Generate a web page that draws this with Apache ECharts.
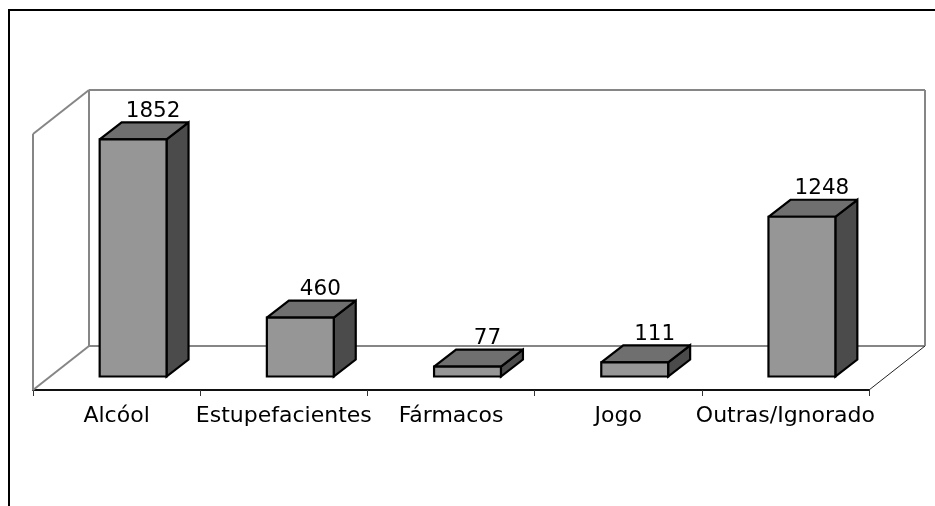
<!DOCTYPE html>
<html><head><meta charset="utf-8">
<style>html,body{margin:0;padding:0;background:#fff}#c{width:935px;height:506px}</style>
<script src="https://cdn.jsdelivr.net/npm/echarts@6/dist/echarts.min.js"></script>
</head><body><div id="c"></div>
<script>
const categories = ["Alcóol","Estupefacientes","Fármacos","Jogo","Outras/Ignorado"];
const values = [1852,460,77,111,1248];
const FONT = '"DejaVu Sans", Verdana, sans-serif';
const WALL = {dx:56, dy:-44};      // depth of the 3D room
const BAR = {ox:16.5, oy:-13.5, dx:22, dy:-17, w:0.4}; // bar offset in the room and its depth

const chart = echarts.init(document.getElementById('c'), null, {renderer:'canvas'});

function poly(points, fill){
  return {type:'polygon', shape:{points}, style:{fill, stroke:'#000', lineWidth:2.2, lineJoin:'miter', miterLimit:3}};
}
function line(x1,y1,x2,y2,stroke,lineWidth){
  return {type:'line', shape:{x1,y1,x2,y2}, style:{stroke, lineWidth}};
}
function renderWalls(params, api){
  const cs = params.coordSys;
  const L = cs.x, R = cs.x + cs.width, T = cs.y, B = cs.y + cs.height;
  const d = WALL, g = '#868686';
  return {type:'group', children:[
    line(L+d.dx,T+d.dy,R+d.dx,T+d.dy,g,2),
    line(L+d.dx,T+d.dy,L+d.dx,B+d.dy,g,2),
    line(R+d.dx,T+d.dy,R+d.dx,B+d.dy,g,2),
    line(L+d.dx,B+d.dy,R+d.dx,B+d.dy,g,2),
    line(L,T,L,B,g,2),
    line(L,T,L+d.dx,T+d.dy,g,2),
    line(L,B,L+d.dx,B+d.dy,g,2),
    line(R,B,R+d.dx,B+d.dy,'#222',1)
  ]};
}
function renderBar(params, api){
  const i = api.value(0), v = api.value(1);
  const top = api.coord([i,v]), base = api.coord([i,0]);
  const w = api.size([1,0])[0]*BAR.w;
  const x0 = top[0]+BAR.ox-w/2, x1 = x0+w;
  const yT = top[1]+BAR.oy, yB = base[1]+BAR.oy;
  const dx = BAR.dx, dy = BAR.dy;
  return {type:'group', children:[
    poly([[x1,yT],[x1+dx,yT+dy],[x1+dx,yB+dy],[x1,yB]],'#4b4b4b'),
    poly([[x0,yT],[x0+dx,yT+dy],[x1+dx,yT+dy],[x1,yT]],'#6f6f6f'),
    poly([[x0,yT],[x1,yT],[x1,yB],[x0,yB]],'#969696'),
    {type:'text', x:top[0]+BAR.ox+20, y:yT+dy, style:{
      text:String(v), fill:'#000', font:'21.5px '+FONT, align:'center', verticalAlign:'bottom'}}
  ]};
}

chart.setOption({
  animation:false,
  backgroundColor:'#fff',
  grid:{left:33, right:66, top:134, bottom:116},
  xAxis:{type:'category', data:categories, boundaryGap:true,
    axisLine:{show:true, lineStyle:{color:'#111', width:2}},
    axisTick:{show:true, length:6, lineStyle:{color:'#333', width:1}},
    axisLabel:{color:'#000', fontFamily:FONT, fontSize:22, margin:15, interval:0}},
  yAxis:{type:'value', min:0, max:2000, interval:500, show:false},
  graphic:[
    {type:'line', z:10, shape:{x1:8,y1:10,x2:935,y2:10}, style:{stroke:'#000',lineWidth:2}},
    {type:'line', z:10, shape:{x1:9,y1:10,x2:9,y2:506}, style:{stroke:'#000',lineWidth:2}}
  ],
  series:[
    {type:'custom', name:'walls', data:[[0,0]], renderItem:renderWalls, silent:true, z:1},
    {type:'custom', name:'values', data:values.map((v,i)=>[i,v]), encode:{x:0,y:1}, renderItem:renderBar, z:2}
  ]
});
</script></body></html>
